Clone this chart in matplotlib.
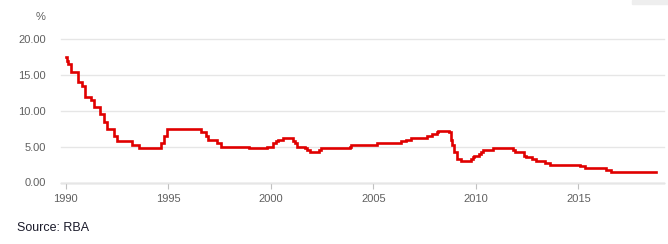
import matplotlib
matplotlib.use("Agg")
import matplotlib.pyplot as plt
import pandas as pd
from matplotlib.patches import Rectangle

# Cash rate target changes (date, % upper bound)
change_dates = [
    "1990-01-01", "1990-01-23", "1990-02-15", "1990-04-04", "1990-08-02", "1990-10-15",
    "1990-12-18", "1991-04-04", "1991-05-16", "1991-09-03", "1991-11-06", "1992-01-08",
    "1992-05-06", "1992-07-08", "1993-03-23", "1993-07-30", "1994-08-17", "1994-10-24",
    "1994-12-14", "1996-07-31", "1996-11-06", "1996-12-11", "1997-05-23", "1997-07-30",
    "1998-12-02", "1999-11-03", "2000-02-02", "2000-04-05", "2000-05-03", "2000-08-02",
    "2001-02-07", "2001-03-07", "2001-04-04", "2001-09-05", "2001-10-03", "2001-12-05",
    "2002-05-08", "2002-06-05", "2003-11-05", "2003-12-03", "2005-03-02", "2006-05-03",
    "2006-08-02", "2006-11-08", "2007-08-08", "2007-11-07", "2008-02-06", "2008-03-05",
    "2008-09-03", "2008-10-08", "2008-11-05", "2008-12-03", "2009-02-04", "2009-04-08",
    "2009-10-07", "2009-11-04", "2009-12-02", "2010-03-03", "2010-04-07", "2010-05-05",
    "2010-11-03", "2011-11-02", "2011-12-07", "2012-05-02", "2012-06-06", "2012-10-03",
    "2012-12-05", "2013-05-08", "2013-08-07", "2015-02-04", "2015-05-06", "2016-05-04",
    "2016-08-03", "2018-10-20",
]
rates = [
    17.5, 17.0, 16.5, 15.5, 14.0, 13.5,
    12.0, 11.5, 10.5, 9.5, 8.5, 7.5,
    6.5, 5.75, 5.25, 4.75, 5.5, 6.5,
    7.5, 7.0, 6.5, 6.0, 5.5, 5.0,
    4.75, 5.0, 5.5, 5.75, 6.0, 6.25,
    5.75, 5.5, 5.0, 4.75, 4.5, 4.25,
    4.5, 4.75, 5.0, 5.25, 5.5, 5.75,
    6.0, 6.25, 6.5, 6.75, 7.0, 7.25,
    7.0, 6.0, 5.25, 4.25, 3.25, 3.0,
    3.25, 3.5, 3.75, 4.0, 4.25, 4.5,
    4.75, 4.5, 4.25, 3.75, 3.5, 3.25,
    3.0, 2.75, 2.5, 2.25, 2.0, 1.75,
    1.5, 1.5,
]
tick_years = [1990, 1995, 2000, 2005, 2010, 2015]
y_ticks = [0, 5, 10, 15, 20]

plt.rcParams["font.family"] = ["Liberation Sans", "DejaVu Sans"]

dates = pd.to_datetime(change_dates)

fig = plt.figure(figsize=(6.68, 2.44), dpi=100)
ax = fig.add_axes([61 / 668, 1 - 182.5 / 244, (663.7 - 61) / 668, (182.5 - 39.3) / 244])

ax.plot(dates, rates, drawstyle="steps-post", color="#e00000", lw=1.9,
        solid_joinstyle="miter", zorder=3)

ax.set_ylim(0, 20)
ax.set_yticks(y_ticks)
ax.set_yticklabels([f"{v:.2f}" for v in y_ticks])
ax.set_xlim(pd.Timestamp("1989-10-08"), pd.Timestamp("2019-03-01"))
ax.set_xticks([pd.Timestamp(f"{y}-01-01") for y in tick_years])
ax.set_xticklabels([str(y) for y in tick_years])

ax.grid(axis="y", color="#e6e6e6", lw=1.0, zorder=0)
ax.grid(axis="x", visible=False)
for g in ax.get_ygridlines():
    g.set_clip_on(False)
for s in ["top", "right", "left"]:
    ax.spines[s].set_visible(False)
ax.spines["bottom"].set_color("#c0c0c0")
ax.spines["bottom"].set_linewidth(1.0)
ax.spines["bottom"].set_zorder(1)

ax.tick_params(axis="y", length=0, pad=10.8, labelsize=8, labelcolor="#606060")
ax.tick_params(axis="x", length=4, width=0.8, color="#c0c0c0", pad=4,
               labelsize=8, labelcolor="#606060", direction="out")

fig.text(40.5 / 668, 1 - 17.5 / 244, "%", ha="center", va="center",
         fontsize=8, color="#606060")
fig.text(17 / 668, 1 - 228 / 244, "Source: RBA", ha="left", va="center",
         fontsize=9, color="#1a1a2a")

fig.patches.append(Rectangle((632 / 668, 1 - 4 / 244), 36 / 668, 4 / 244,
                             transform=fig.transFigure, color="#eeeeee", zorder=0))

fig.savefig("out.png", dpi=100)
